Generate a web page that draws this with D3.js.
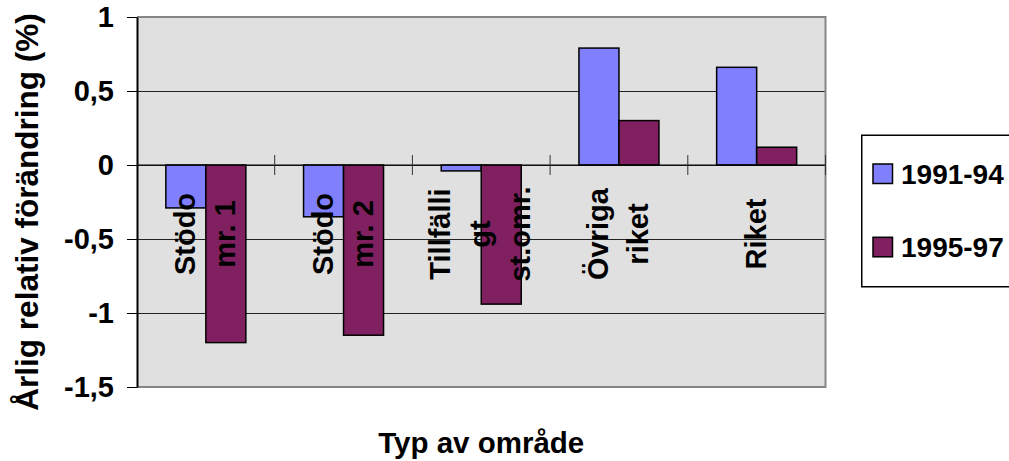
<!DOCTYPE html>
<html>
<head>
<meta charset="utf-8">
<script src="https://cdn.jsdelivr.net/npm/d3@7/dist/d3.min.js"></script>
<style>
  html, body { margin: 0; padding: 0; background: #ffffff; }
  svg { display: block; }
  text { font-family: "Liberation Sans", Arial, Helvetica, sans-serif; font-weight: bold; fill: #000; }
</style>
</head>
<body>
<svg id="chart" width="1009" height="461"></svg>
<script>
// ---- data ----
const categories = ["Stödo\nmr. 1", "Stödo\nmr. 2", "Tillfälli\ngt\nst.omr.", "Övriga\nriket", "Riket"];
const series = ["1991-94", "1995-97"];
const values1991_94 = [-0.29, -0.35, -0.04, 0.79, 0.66];
const values1995_97 = [-1.2, -1.15, -0.94, 0.3, 0.12];
const yTickValues = [1, 0.5, 0, -0.5, -1, -1.5];
const yTickLabels = ["1", "0,5", "0", "-0,5", "-1", "-1,5"];
const seriesColors = ["#8080ff", "#802060"];
const yTitle = "Årlig relativ förändring (%)";
const xTitle = "Typ av område";

// ---- layout ----
const plot = { left: 137, right: 825.5, top: 17, bottom: 387 };

const svg = d3.select("#chart");

const x = d3.scaleBand().domain(categories).range([plot.left, plot.right]).paddingInner(0).paddingOuter(0);
const bw = x.bandwidth();
const groupW = bw * 0.581;
const xs = d3.scaleBand().domain(series).range([(bw - groupW) / 2, (bw + groupW) / 2]).padding(0);
const y = d3.scaleLinear().domain([-1.5, 1]).range([plot.bottom, plot.top]);

const data = categories.map((c, i) => ({
  cat: c,
  vals: [
    { s: series[0], v: values1991_94[i], color: seriesColors[0] },
    { s: series[1], v: values1995_97[i], color: seriesColors[1] }
  ]
}));

// plot background
svg.append("rect")
  .attr("x", plot.left).attr("y", plot.top)
  .attr("width", plot.right - plot.left).attr("height", plot.bottom - plot.top)
  .attr("fill", "#e0e0e0");

// gridlines
svg.append("g").selectAll("line")
  .data(yTickValues)
  .join("line")
  .attr("x1", plot.left).attr("x2", plot.right)
  .attr("y1", d => Math.round(y(d)) + 0.5).attr("y2", d => Math.round(y(d)) + 0.5)
  .attr("stroke", d => (d === 1 || d === -1.5) ? "none" : "#222")
  .attr("stroke-width", 1);

// plot border (top/right/bottom)
svg.append("path")
  .attr("d", `M${plot.left},${plot.top}H${plot.right}V${plot.bottom}H${plot.left}`)
  .attr("fill", "none").attr("stroke", "#858585").attr("stroke-width", 2);

// bars
const groups = svg.append("g").selectAll("g")
  .data(data).join("g")
  .attr("transform", d => `translate(${x(d.cat)},0)`);

groups.selectAll("rect")
  .data(d => d.vals).join("rect")
  .attr("x", d => xs(d.s))
  .attr("width", xs.bandwidth())
  .attr("y", d => y(Math.max(0, d.v)))
  .attr("height", d => Math.abs(y(d.v) - y(0)))
  .attr("fill", d => d.color)
  .attr("stroke", "#000")
  .attr("stroke-width", 1.5);

// zero line
svg.append("line")
  .attr("x1", plot.left).attr("x2", plot.right)
  .attr("y1", y(0)).attr("y2", y(0))
  .attr("stroke", "#000").attr("stroke-width", 1.2);

// category tick marks on zero line
const boundaries = categories.map(c => x(c) + bw);
svg.append("g").selectAll("line")
  .data(boundaries).join("line")
  .attr("x1", d => d).attr("x2", d => d)
  .attr("y1", y(0) - 10).attr("y2", y(0) + 10)
  .attr("stroke", "#333").attr("stroke-width", 1);

// y axis
const yAxis = d3.axisLeft(y)
  .tickValues(yTickValues)
  .tickFormat((d, i) => yTickLabels[i])
  .tickSize(10)
  .tickSizeOuter(0)
  .tickPadding(13);

const yg = svg.append("g")
  .attr("transform", `translate(${plot.left},0)`)
  .call(yAxis);
yg.select(".domain").attr("stroke", "#000").attr("stroke-width", 2);
yg.selectAll(".tick line").attr("stroke", "#000").attr("stroke-width", 1);
yg.selectAll(".tick text")
  .attr("font-size", 29)
  .attr("font-family", "Liberation Sans, Arial, sans-serif")
  .attr("font-weight", "bold")
  .attr("fill", "#000")
  .attr("dy", "0.34em");

// category labels (rotated, multiline)
const lineGap = 40;
const catLabels = svg.append("g").selectAll("g")
  .data(categories).join("g")
  .attr("transform", d => `translate(${x(d) + bw / 2},234) rotate(-90)`);

catLabels.each(function (d) {
  const lines = d.split("\n");
  const n = lines.length;
  const t = d3.select(this).append("text")
    .attr("text-anchor", "middle")
    .attr("font-size", 29);
  lines.forEach((ln, i) => {
    t.append("tspan")
      .attr("x", 0)
      .attr("y", (i - (n - 1) / 2) * lineGap + 9)
      .text(ln);
  });
});

// y title
svg.append("text")
  .attr("transform", `translate(38,212) rotate(-90)`)
  .attr("text-anchor", "middle")
  .attr("font-size", 31.5)
  .text(yTitle);

// x title
svg.append("text")
  .attr("x", (plot.left + plot.right) / 2)
  .attr("y", 452.5)
  .attr("text-anchor", "middle")
  .attr("font-size", 29.5)
  .text(xTitle);

// legend
const legend = svg.append("g");
legend.append("rect")
  .attr("x", 861.75).attr("y", 135.25)
  .attr("width", 160).attr("height", 151.5)
  .attr("fill", "#fff").attr("stroke", "#000").attr("stroke-width", 1.5);

const legendRowY = [183.5, 256.8];
const li = legend.selectAll("g.item")
  .data(series).join("g").attr("class", "item")
  .attr("transform", (d, i) => `translate(0,${legendRowY[i]})`);
li.append("rect")
  .attr("x", 873).attr("y", -19.5)
  .attr("width", 19.5).attr("height", 19.5)
  .attr("fill", (d, i) => seriesColors[i])
  .attr("stroke", "#000").attr("stroke-width", 1.5);
li.append("text")
  .attr("x", 901).attr("y", 0)
  .attr("font-size", 28)
  .text(d => d);
</script>
</body>
</html>
